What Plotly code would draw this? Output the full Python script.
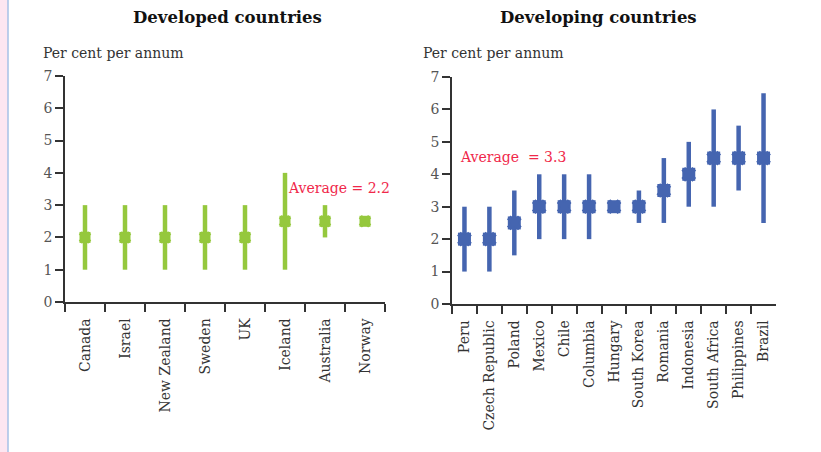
import plotly.graph_objects as go

# Developed countries: central estimate and range (per cent per annum)
developed = ["Canada", "Israel", "New Zealand", "Sweden", "UK", "Iceland", "Australia", "Norway"]
dev_mid = [2.0, 2.0, 2.0, 2.0, 2.0, 2.5, 2.5, 2.5]
dev_low = [1.0, 1.0, 1.0, 1.0, 1.0, 1.0, 2.0, 2.5]
dev_high = [3.0, 3.0, 3.0, 3.0, 3.0, 4.0, 3.0, 2.5]
dev_avg = 2.2

# Developing countries
developing = ["Peru", "Czech Republic", "Poland", "Mexico", "Chile", "Columbia", "Hungary",
              "South Korea", "Romania", "Indonesia", "South Africa", "Philippines", "Brazil"]
devg_mid = [2.0, 2.0, 2.5, 3.0, 3.0, 3.0, 3.0, 3.0, 3.5, 4.0, 4.5, 4.5, 4.5]
devg_low = [1.0, 1.0, 1.5, 2.0, 2.0, 2.0, 3.0, 2.5, 2.5, 3.0, 3.0, 3.5, 2.5]
devg_high = [3.0, 3.0, 3.5, 4.0, 4.0, 4.0, 3.0, 3.5, 4.5, 5.0, 6.0, 5.5, 6.5]
devg_avg = 3.3

y_ticks = [0, 1, 2, 3, 4, 5, 6, 7]

GREEN = "#95c83d"
BLUE = "#4565b0"
RED = "#e0185e"
SERIF = "DejaVu Serif, Liberation Serif, serif"
AXIS = "#333333"

fig = go.Figure()


def add_panel(cats, mid, low, high, color, size, xa, ya):
    plus = [h - m for h, m in zip(high, mid)]
    minus = [m - l for m, l in zip(mid, low)]
    fig.add_trace(go.Scatter(
        x=cats, y=mid, mode="markers", xaxis=xa, yaxis=ya,
        marker=dict(symbol="square", size=size, color=color),
        error_y=dict(type="data", symmetric=False, array=plus, arrayminus=minus,
                     color=color, thickness=4.5, width=0),
        showlegend=False, hoverinfo="x+y"))
    fig.add_trace(go.Scatter(
        x=cats, y=mid, mode="markers", xaxis=xa, yaxis=ya,
        marker=dict(symbol="x", size=size, color=color, line=dict(width=0)),
        showlegend=False, hoverinfo="skip"))


add_panel(developed, dev_mid, dev_low, dev_high, GREEN, 11, "x", "y")
add_panel(developing, devg_mid, devg_low, devg_high, BLUE, 13, "x2", "y2")

# Average lines
fig.add_trace(go.Scatter(x=[-0.45, len(developed) - 0.5], y=[dev_avg, dev_avg], mode="lines",
                         xaxis="x", yaxis="y", line=dict(color=RED, width=1.8, dash="4px,3px"),
                         showlegend=False, hoverinfo="skip"))
fig.add_trace(go.Scatter(x=[-0.45, len(developing) - 0.5], y=[devg_avg, devg_avg], mode="lines",
                         xaxis="x2", yaxis="y2", line=dict(color=RED, width=1.8, dash="4px,3px"),
                         showlegend=False, hoverinfo="skip"))

xcommon = dict(type="category", tickson="boundaries", ticks="outside", ticklen=8,
               tickwidth=1.5, tickcolor=AXIS, showline=True, linecolor=AXIS, linewidth=1.5,
               showgrid=False, zeroline=False, tickangle=-90, fixedrange=True,
               automargin=False, ticklabelstandoff=9,
               tickfont=dict(family=SERIF, size=14, color="#333333"))
ycommon = dict(range=[0, 7], tickvals=y_ticks, ticks="outside", ticklen=8, tickwidth=1.5,
               tickcolor=AXIS, showline=True, linecolor=AXIS, linewidth=1.5, showgrid=False,
               zeroline=False, fixedrange=True, automargin=False,
               tickfont=dict(family=SERIF, size=14, color="#555555"))


def label(text, x, y, size, color, xanchor="left"):
    return dict(text=text, x=x / 821, y=1 - y / 452, xref="paper", yref="paper",
                xanchor=xanchor, yanchor="middle", showarrow=False,
                font=dict(family=SERIF, size=size, color=color))


fig.update_layout(
    template="none",
    width=821, height=452, margin=dict(l=0, r=0, t=0, b=0, autoexpand=False),
    paper_bgcolor="white", plot_bgcolor="white",
    xaxis=dict(domain=[65 / 821, 385 / 821], range=[-0.5, len(developed) - 0.5],
               anchor="y", **xcommon),
    yaxis=dict(domain=[1 - 302 / 452, 1 - 76 / 452], anchor="x", **ycommon),
    xaxis2=dict(domain=[452 / 821, 776 / 821], range=[-0.5, len(developing) - 0.5],
                anchor="y2", **xcommon),
    yaxis2=dict(domain=[1 - 304 / 452, 1 - 77 / 452], anchor="x2", **ycommon),
    shapes=[
        dict(type="rect", xref="paper", yref="paper", x0=0, x1=7.5 / 821, y0=0, y1=1,
             fillcolor="#fde6f1", line=dict(width=0), layer="below"),
        dict(type="line", xref="paper", yref="paper", x0=8 / 821, x1=8 / 821, y0=0, y1=1,
             line=dict(color="#8fb0e0", width=1.2)),
    ],
    annotations=[
        label("<b>Developed countries</b>", 227, 18, 16.5, "#111", "center"),
        label("<b>Developing countries</b>", 598, 18, 16.5, "#111", "center"),
        label("Per cent per annum", 41, 53, 14, "#333"),
        label("Per cent per annum", 421, 53, 14, "#333"),
        label("Average = 2.2", 286, 188, 14, "#f0284a"),
        label("Average  = 3.3", 458, 157, 14, "#f0284a"),
    ],
)

fig.write_html("out.html")
